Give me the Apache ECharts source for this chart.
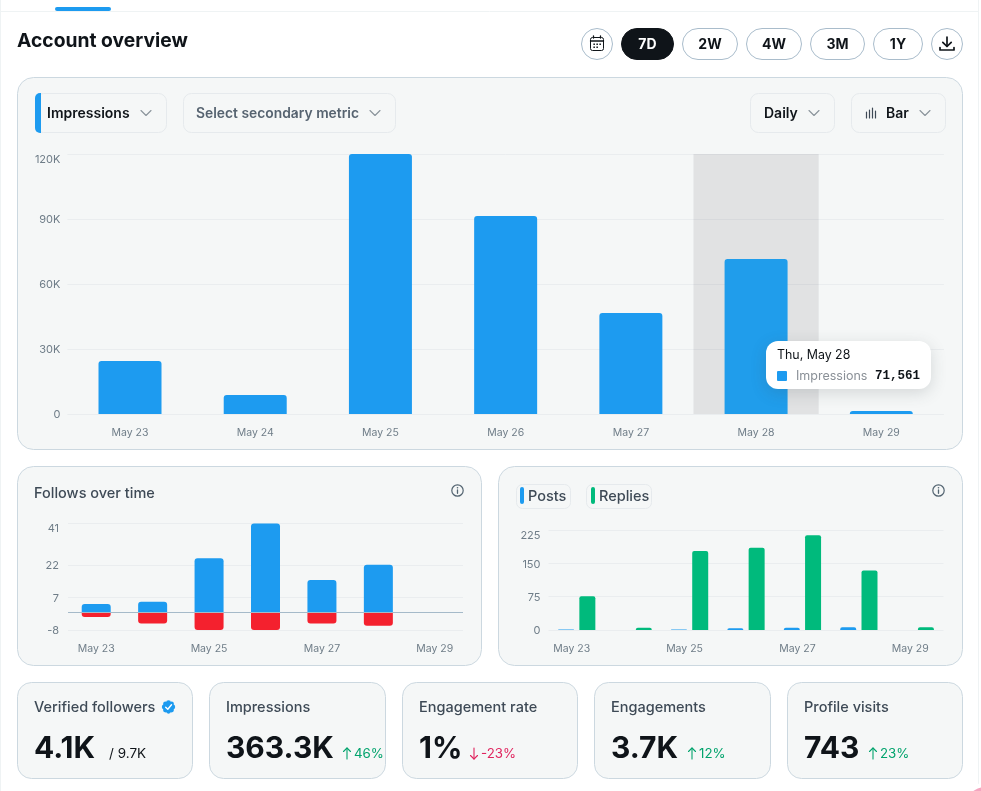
<!DOCTYPE html>
<html>
<head>
<meta charset="utf-8">
<title>Account overview</title>
<script src="https://cdn.jsdelivr.net/npm/echarts@6/dist/echarts.min.js"></script>
<style>
  html, body { margin: 0; padding: 0; background: #fff; }
  #chart { width: 981px; height: 791px; overflow: hidden; }
</style>
</head>
<body>
<div id="chart"></div>
<script>
// Daily dates shared by all three charts
const days = ['May 23', 'May 24', 'May 25', 'May 26', 'May 27', 'May 28', 'May 29'];

// Impressions per day
const impressions = [24500, 8800, 120000, 91400, 46600, 71561, 1400];
const impressionTicks = [0, 30000, 60000, 90000, 120000];

// Follows and unfollows per day
const follows = [4, 5, 25, 41, 15, 22, 0];
const unfollows = [-2, -5, -8, -8, -5, -6, 0];
const followTicks = [-8, 7, 22, 41];

// Posts and replies per day
const posts = [1, 0, 1, 4, 5, 6, 0];
const replies = [76, 5, 178, 185, 213, 134, 6];

// Summary cards
const statNames = ['Verified followers', 'Impressions', 'Engagement rate', 'Engagements', 'Profile visits'];
const statValues = ['4.1K', '363.3K', '1%', '3.7K', '743'];
const statChanges = ['/ 9.7K', '46%', '-23%', '12%', '23%'];

// Toolbar and filter labels
const ranges = ['7D', '2W', '4W', '3M', '1Y'];

const FONT = 'Inter, "Noto Sans", sans-serif';
const BLUE = '#1d9bf0', GREEN = '#00ba7c', RED = '#f4212e';
const INK = '#0f1419', SLATE = '#3e4a56', MUTED = '#6f7d88';
const PANEL = '#f5f7f7', EDGE = '#ccd8e0', SOFT = '#e6eaed', GRID = '#eaedef';

const shapes = [];
const box = (x, y, w, h, r, fill, stroke, z) => shapes.push({
  type: 'rect', z: z === undefined ? -2 : z, silent: true,
  shape: { x, y, width: w, height: h, r },
  style: { fill, stroke: stroke || null, lineWidth: stroke ? 1 : 0 }
});
const label = (x, y, text, font, fill, align) => shapes.push({
  type: 'text', z: -1, silent: true,
  style: { x, y: y + 1, text, font: font + ' ' + FONT, fill, textAlign: align || 'left', textVerticalAlign: 'middle' }
});
const stroke = (points, color, width) => shapes.push({
  type: 'polyline', z: -1, silent: true,
  shape: { points },
  style: { stroke: color, lineWidth: width || 1.3, fill: null, lineCap: 'round', lineJoin: 'round' }
});
const ring = (cx, cy, r, fill, edge, width) => shapes.push({
  type: 'circle', z: -1, silent: true,
  shape: { cx, cy, r },
  style: { fill: fill || null, stroke: edge || null, lineWidth: width || 1 }
});
const chevron = (cx, cy) => stroke([[cx - 5, cy - 2.5], [cx, cy + 2.5], [cx + 5, cy - 2.5]], '#8a939b', 1.1);
const infoIcon = (cx, cy) => {
  ring(cx, cy, 5.7, null, '#536471', 1.2);
  stroke([[cx, cy - 0.5], [cx, cy + 2.8]], '#536471', 1.3);
  ring(cx, cy - 2.7, 0.8, '#536471');
};

// Page frame and active tab marker
box(0.5, -2, 978, 13.5, 0, '#fff', '#eff3f4');
shapes.push({ type: 'line', z: -2, silent: true, shape: { x1: 0.5, y1: 11, x2: 0.5, y2: 791 }, style: { stroke: '#eff3f4' } });
shapes.push({ type: 'line', z: -2, silent: true, shape: { x1: 978.5, y1: 11, x2: 978.5, y2: 791 }, style: { stroke: '#eff3f4' } });
box(55, 7, 56, 4, 2, BLUE, null, -1);
ring(985, 806, 23, '#fff', null);
ring(985, 806, 19, '#f4a6c0', null);
label(17, 40, 'Account overview', '700 19.3px', INK);

// Date range toolbar
const pillX = [621, 682, 746, 810, 873];
const pillW = [53, 56, 56, 55, 50];
ring(597, 44, 15.5, '#fff', '#a9bccb');
box(590.5, 37.5, 13, 13, 2, null, INK, -1);
stroke([[590.5, 41], [603.5, 41]], INK, 1.4);
stroke([[593.5, 36], [593.5, 38]], INK, 1.3);
stroke([[600.5, 36], [600.5, 38]], INK, 1.3);
[[594, 44], [597, 44], [600, 44], [594, 47], [597, 47]].forEach(p => box(p[0] - 0.6, p[1] - 0.6, 1.5, 1.5, 0, INK, null, -1));
ranges.forEach((text, i) => {
  const on = i === 0;
  box(pillX[i] + 0.5, 28.5, pillW[i] - 1, 31, 15.5, on ? INK : '#fff', on ? INK : '#a9bccb');
  label(pillX[i] + pillW[i] / 2, 44, text, '700 14px', on ? '#fff' : INK, 'center');
});
ring(947, 44, 15.5, '#fff', '#a9bccb');
stroke([[947, 37], [947, 46]], INK, 1.7);
stroke([[942.8, 42.3], [947, 46.5], [951.2, 42.3]], INK, 1.7);
stroke([[940, 47.5], [940, 50], [954, 50], [954, 47.5]], INK, 1.7);

// Cards behind the three charts
box(17.5, 77.5, 945, 372, 16, PANEL, EDGE);
box(17.5, 466.5, 464, 199, 16, PANEL, EDGE);
box(498.5, 466.5, 464, 199, 16, PANEL, EDGE);

// Metric selectors
box(35.5, 93.5, 131, 39, 8, PANEL, SOFT);
box(35, 93, 6, 40, [5, 0, 0, 5], BLUE, null, -1);
label(47, 113, 'Impressions', '600 14px', INK);
chevron(146, 113);
box(183.5, 93.5, 212, 39, 8, PANEL, SOFT);
label(196, 113, 'Select secondary metric', '600 13.85px', '#566370');
chevron(375, 113);
box(750.5, 93.5, 84, 39, 8, PANEL, SOFT);
label(764, 113, 'Daily', '600 14px', INK);
chevron(814, 113);
box(851.5, 93.5, 94, 39, 8, PANEL, SOFT);
[[866.5, 112, 118], [869.5, 110, 118], [872.5, 108, 118], [875.5, 111, 118]].forEach(p => stroke([[p[0], p[1]], [p[0], p[2]]], '#3e4a56', 1.2));
label(886, 113, 'Bar', '600 14px', INK);
chevron(925, 113);

// Secondary chart headers
label(34, 493, 'Follows over time', '500 14.5px', SLATE);
infoIcon(457.5, 490.5);
infoIcon(938.5, 490.5);
box(516.5, 484.5, 54, 24, 6, PANEL, SOFT);
box(520, 487, 4, 17, 2, BLUE, null, -1);
label(528, 496, 'Posts', '500 14.5px', SLATE);
box(586.5, 484.5, 65, 24, 6, PANEL, SOFT);
box(591, 487, 4, 17, 2, GREEN, null, -1);
label(599, 496, 'Replies', '500 14.5px', SLATE);

// Summary cards along the bottom
const statX = [17, 209, 402, 594, 787];
const statW = [176, 177, 176, 177, 176];
const valueW = [66, 108, 42, 68, 56];
statNames.forEach((name, i) => {
  const x = statX[i];
  box(x + 0.5, 682.5, statW[i] - 1, 96, 14, PANEL, EDGE);
  label(x + 17, 707, name, '500 14.5px', SLATE);
  label(x + 17, 748, statValues[i], '700 30px', INK);
  const after = x + 17 + valueW[i] + 9;
  if (i === 0) {
    label(after, 753, statChanges[i], '400 13.5px', INK);
  } else {
    const down = statChanges[i].startsWith('-');
    const tone = down ? '#e0245e' : '#00a36c';
    const ax = after + 4;
    const tip = down ? 759 : 748;
    const dir = down ? -1 : 1;
    stroke([[ax, 748], [ax, 759]], tone, 1.1);
    stroke([[ax - 3.5, tip + dir * 3.5], [ax, tip], [ax + 3.5, tip + dir * 3.5]], tone, 1.1);
    label(after + 11, 753, statChanges[i], '400 13.3px', tone);
  }
});

// Verified badge beside the first card title
const bx = 168.5, by = 707;
for (let k = 0; k < 8; k++) {
  const a = k * Math.PI / 4;
  ring(bx + 4.3 * Math.cos(a), by + 4.3 * Math.sin(a), 2.4, BLUE);
}
ring(bx, by, 5, BLUE);
stroke([[bx - 2.8, by + 0.2], [bx - 0.7, by + 2.3], [bx + 3, by - 2.2]], '#fff', 1.4);

const xText = { color: MUTED, fontFamily: FONT, fontSize: 10.5 };

// Value-axis labels: the top tick hangs below its gridline, the rest sit just under centre
const yLabel = (margin, top, format) => ({
  color: MUTED, fontFamily: FONT, fontSize: 11, margin,
  verticalAlignMaxLabel: 'top',
  formatter: v => (v === top ? format(v) : '{t|' + format(v) + '}'),
  rich: { t: { color: MUTED, fontFamily: FONT, fontSize: 11, lineHeight: 13, verticalAlign: 'bottom' } }
});
const gridLine = { show: true, lineStyle: { color: GRID, width: 1 } };
const xAxisFor = (gridIndex, extra) => Object.assign({
  type: 'category', gridIndex, data: days,
  axisLine: { show: false }, axisTick: { show: false }, splitLine: { show: false }
}, extra);

const chart = echarts.init(document.getElementById('chart'), null, { renderer: 'canvas' });

chart.setOption({
  animation: false,
  graphic: { elements: shapes },
  grid: [
    { left: 67.4, top: 154, width: 876.5, height: 260, outerBoundsMode: 'none' },
    { left: 68, top: 523.5, width: 395, height: 106.5, outerBoundsMode: 'none' },
    { left: 548.5, top: 530, width: 395, height: 100, outerBoundsMode: 'none' }
  ],
  xAxis: [
    xAxisFor(0, { axisLabel: Object.assign({}, xText, { margin: 13 }) }),
    xAxisFor(1, { axisLine: { show: false, onZero: false }, axisLabel: Object.assign({}, xText, { margin: 13, interval: 1 }) }),
    xAxisFor(2, { axisLabel: Object.assign({}, xText, { margin: 13, interval: 1, padding: [0, 10, 0, 0] }) })
  ],
  yAxis: [
    {
      type: 'value', gridIndex: 0, min: 0, max: 120000, interval: 30000,
      axisLine: { show: false }, axisTick: { show: false }, splitLine: gridLine,
      axisLabel: Object.assign(yLabel(7, 120000, v => (v === 0 ? '0' : v / 1000 + 'K')), { customValues: impressionTicks })
    },
    {
      type: 'value', gridIndex: 1, min: -8, max: 41,
      axisLine: { show: false },
      axisTick: { show: false, customValues: followTicks },
      splitLine: gridLine,
      axisLabel: Object.assign(yLabel(9, 41, String), { customValues: followTicks })
    },
    {
      type: 'value', gridIndex: 2, min: 0, max: 225, interval: 75,
      axisLine: { show: false }, axisTick: { show: false }, splitLine: gridLine,
      axisLabel: yLabel(8, 225, String)
    }
  ],
  tooltip: {
    trigger: 'axis', triggerOn: 'none', alwaysShowContent: true,
    position: [766, 341],
    axisPointer: { type: 'shadow', shadowStyle: { color: 'rgba(50,45,60,0.1)' } },
    backgroundColor: '#fff', borderWidth: 0, padding: 0,
    extraCssText: 'border-radius:12px;box-shadow:0 4px 16px rgba(60,70,80,.18);',
    formatter: params => {
      const p = params[0];
      return '<div style="width:165px;height:48px;box-sizing:border-box;padding:6px 11px 0 11px;font-family:Inter,sans-serif">'
        + '<div style="font-size:12.4px;line-height:16px;color:#0f1419">Thu, ' + p.name + '</div>'
        + '<div style="display:flex;align-items:center;margin-top:5px;font-size:12.5px;line-height:16px">'
        + '<span style="width:10px;height:10px;border-radius:1px;background:' + BLUE + ';margin-right:9px"></span>'
        + '<span style="color:#8a9097;flex:1">' + p.seriesName + '</span>'
        + '<span style="font-family:\'Liberation Mono\',monospace;font-weight:700;color:#0f1419">' + p.value.toLocaleString('en-US') + '</span>'
        + '</div></div>';
    }
  },
  series: [
    {
      name: 'Impressions', type: 'bar', xAxisIndex: 0, yAxisIndex: 0, data: impressions,
      barWidth: 63, itemStyle: { color: BLUE, borderRadius: [3, 3, 0, 0] }
    },
    {
      name: 'Follows', type: 'bar', xAxisIndex: 1, yAxisIndex: 1, stack: 'net', data: follows,
      barWidth: 29, itemStyle: { color: BLUE, borderRadius: [3, 3, 0, 0] },
      markLine: {
        silent: true, symbol: 'none', label: { show: false }, z: 5,
        lineStyle: { color: '#a5bac9', width: 1, type: 'solid' },
        data: [{ yAxis: 0 }]
      }
    },
    {
      name: 'Unfollows', type: 'bar', xAxisIndex: 1, yAxisIndex: 1, stack: 'net', data: unfollows,
      barWidth: 29, itemStyle: { color: RED, borderRadius: [0, 0, 3, 3] }
    },
    {
      name: 'Posts', type: 'bar', xAxisIndex: 2, yAxisIndex: 2, data: posts,
      barWidth: 16, barGap: '33%', itemStyle: { color: BLUE, borderRadius: [2, 2, 0, 0] }
    },
    {
      name: 'Replies', type: 'bar', xAxisIndex: 2, yAxisIndex: 2, data: replies,
      barWidth: 16, barGap: '33%', itemStyle: { color: GREEN, borderRadius: [2, 2, 0, 0] }
    }
  ]
});

chart.dispatchAction({ type: 'showTip', seriesIndex: 0, dataIndex: 5 });
</script>
</body>
</html>
